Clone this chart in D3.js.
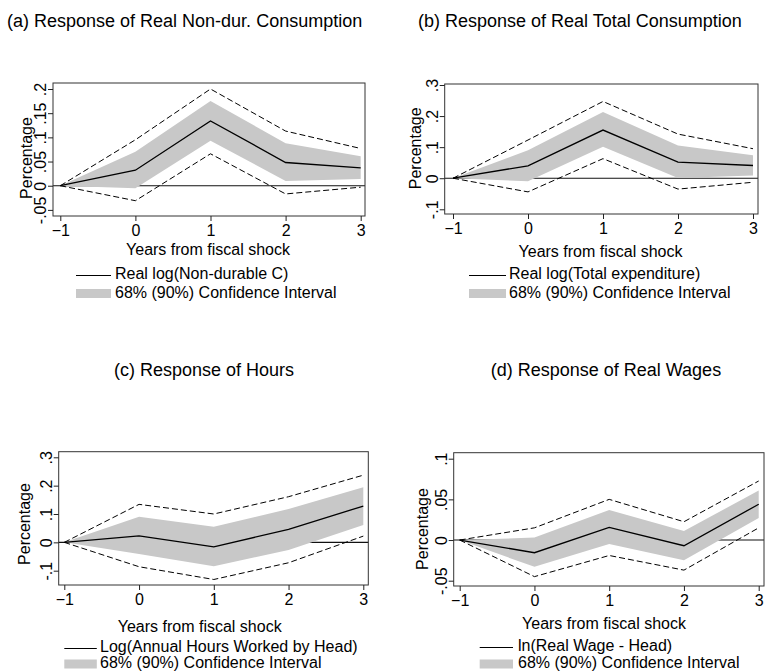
<!DOCTYPE html>
<html>
<head>
<meta charset="utf-8">
<script src="https://cdn.jsdelivr.net/npm/d3@7"></script>
<style>
  html, body { margin: 0; padding: 0; background: #fff; }
  svg { display: block; font-family: "Liberation Sans", Arial, sans-serif; }
  .tick line { stroke: #222; }
  .tick text { font-size: 16px; fill: #000; }
</style>
</head>
<body>
<div id="chart"></div>
<script>
// years after the fiscal shock
const years = [-1, 0, 1, 2, 3];

// (a) real non-durable consumption
const ndEst = [0, 0.032, 0.134, 0.048, 0.037];
const nd68Lo = [0, -0.005, 0.093, 0.010, 0.014];
const nd68Hi = [0, 0.070, 0.175, 0.088, 0.061];
const nd90Lo = [0, -0.031, 0.066, -0.017, -0.003];
const nd90Hi = [0, 0.095, 0.200, 0.113, 0.077];
const ndTicks = [-0.05, 0, 0.05, 0.1, 0.15, 0.2];

// (b) real total consumption
const totEst = [0, 0.040, 0.155, 0.052, 0.041];
const tot68Lo = [0, -0.010, 0.101, 0.001, 0.009];
const tot68Hi = [0, 0.090, 0.213, 0.105, 0.074];
const tot90Lo = [0, -0.044, 0.063, -0.035, -0.013];
const tot90Hi = [0, 0.123, 0.247, 0.142, 0.095];
const totTicks = [-0.1, 0, 0.1, 0.2, 0.3];

// (c) hours
const hrsEst = [0, 0.023, -0.016, 0.046, 0.128];
const hrs68Lo = [0, -0.041, -0.084, -0.027, 0.061];
const hrs68Hi = [0, 0.090, 0.055, 0.118, 0.194];
const hrs90Lo = [0, -0.086, -0.131, -0.072, 0.022];
const hrs90Hi = [0, 0.134, 0.100, 0.161, 0.237];
const hrsTicks = [-0.1, 0, 0.1, 0.2, 0.3];

// (d) real wages
const wageEst = [0, -0.0156, 0.0156, -0.007, 0.044];
const wage68Lo = [0, -0.033, -0.005, -0.025, 0.027];
const wage68Hi = [0, 0.003, 0.037, 0.011, 0.061];
const wage90Lo = [0, -0.045, -0.019, -0.037, 0.015];
const wage90Hi = [0, 0.015, 0.050, 0.0225, 0.0726];
const wageTicks = [-0.05, 0, 0.05, 0.1];

const bandLabel = "68% (90%) Confidence Interval";

class IrfPanel {
  constructor(_config, data) {
    this.config = _config;
    this.data = data;
    this.initVis();
  }

  initVis() {
    let vis = this;
    const c = vis.config;

    vis.xScale = d3.scaleLinear().domain([-1, 3]).range(c.xRange);
    vis.yScale = d3
      .scaleLinear()
      .domain([d3.min(c.yTicks), d3.max(c.yTicks)])
      .range(c.yRange);

    vis.g = c.svg.append("g");

    vis.g
      .append("text")
      .attr("x", c.title.x)
      .attr("y", c.title.y)
      .style("font-size", "18px")
      .text(c.title.text);

    vis.renderVis();
  }

  renderVis() {
    let vis = this;
    const c = vis.config;
    const b = c.box;
    const rows = years.map((yr, i) => ({
      yr: yr,
      est: vis.data.est[i],
      lo68: vis.data.lo68[i],
      hi68: vis.data.hi68[i],
      lo90: vis.data.lo90[i],
      hi90: vis.data.hi90[i],
    }));

    // zero line sits under the band
    vis.g
      .append("line")
      .attr("x1", b.x0)
      .attr("x2", b.x1)
      .attr("y1", vis.yScale(0))
      .attr("y2", vis.yScale(0))
      .style("stroke", "#111")
      .style("stroke-width", 1.1);

    const area = d3
      .area()
      .x((d) => vis.xScale(d.yr))
      .y0((d) => vis.yScale(d.lo68))
      .y1((d) => vis.yScale(d.hi68));

    vis.g
      .append("path")
      .datum(rows)
      .attr("d", area)
      .style("fill", "#c8c8c8");

    ["lo90", "hi90"].forEach((k) => {
      vis.g
        .append("path")
        .datum(rows)
        .attr(
          "d",
          d3
            .line()
            .x((d) => vis.xScale(d.yr))
            .y((d) => vis.yScale(d[k]))
        )
        .style("fill", "none")
        .style("stroke", "#000")
        .style("stroke-width", 1)
        .style("stroke-dasharray", "6,3");
    });

    vis.g
      .append("path")
      .datum(rows)
      .attr(
        "d",
        d3
          .line()
          .x((d) => vis.xScale(d.yr))
          .y((d) => vis.yScale(d.est))
      )
      .style("fill", "none")
      .style("stroke", "#000")
      .style("stroke-width", 1.3);

    // plot region outline
    vis.g
      .append("rect")
      .attr("x", b.x0)
      .attr("y", b.y0)
      .attr("width", b.x1 - b.x0)
      .attr("height", b.y1 - b.y0)
      .style("fill", "none")
      .style("stroke", "#333")
      .style("stroke-width", 1);

    // axes
    const xAxis = vis.g
      .append("g")
      .attr("transform", `translate(0,${b.y1})`)
      .call(
        d3
          .axisBottom(vis.xScale)
          .tickValues(years)
          .tickFormat(d3.format("d"))
          .tickSize(5)
      );
    xAxis.select(".domain").remove();
    xAxis.selectAll("text").attr("y", 20).attr("dy", 0);

    const fmt = (d) => (d === 0 ? "0" : String(d).replace("0.", "."));
    const yAxis = vis.g
      .append("g")
      .attr("transform", `translate(${b.x0},0)`)
      .call(
        d3.axisLeft(vis.yScale).tickValues(c.yTicks).tickFormat(fmt).tickSize(5)
      );
    yAxis.select(".domain").remove();
    yAxis
      .selectAll("text")
      .attr("x", 0)
      .attr("dy", 0)
      .attr("transform", "translate(-7,0) rotate(-90)")
      .style("text-anchor", "middle");

    vis.g
      .append("text")
      .attr("x", c.xLabel.x)
      .attr("y", c.xLabel.y)
      .style("font-size", "16px")
      .style("text-anchor", "middle")
      .text("Years from fiscal shock");

    vis.g
      .append("text")
      .attr("transform", `translate(${c.yLabel.x},${c.yLabel.y}) rotate(-90)`)
      .style("font-size", "16px")
      .style("text-anchor", "middle")
      .text("Percentage");

    // legend
    const L = c.legend;
    vis.g
      .append("line")
      .attr("x1", L.x)
      .attr("x2", L.x + L.w)
      .attr("y1", L.y1 - 3.5)
      .attr("y2", L.y1 - 3.5)
      .style("stroke", "#000")
      .style("stroke-width", 1.2);
    vis.g
      .append("rect")
      .attr("x", L.x)
      .attr("y", L.y2 - 8.5)
      .attr("width", L.w)
      .attr("height", 9)
      .style("fill", "#c8c8c8");
    vis.g
      .append("text")
      .attr("x", L.tx)
      .attr("y", L.y1)
      .style("font-size", "16px")
      .text(c.seriesLabel);
    vis.g
      .append("text")
      .attr("x", L.tx)
      .attr("y", L.y2)
      .style("font-size", "16px")
      .text(bandLabel);
  }
}

const svg = d3
  .select("#chart")
  .append("svg")
  .attr("width", 766)
  .attr("height", 671);

new IrfPanel(
  {
    svg: svg,
    title: { text: "(a) Response of Real Non-dur. Consumption", x: 7, y: 26.5 },
    box: { x0: 53, x1: 365, y0: 83, y1: 216 },
    xRange: [60.3, 360.7],
    yRange: [209.9, 89],
    yTicks: ndTicks,
    xLabel: { x: 208, y: 255 },
    yLabel: { x: 32, y: 158 },
    legend: { x: 76, w: 35, tx: 115, y1: 279, y2: 297.5 },
    seriesLabel: "Real log(Non-durable C)",
  },
  { est: ndEst, lo68: nd68Lo, hi68: nd68Hi, lo90: nd90Lo, hi90: nd90Hi }
);

new IrfPanel(
  {
    svg: svg,
    title: { text: "(b) Response of Real Total Consumption", x: 418, y: 26.5 },
    box: { x0: 444.7, x1: 758, y0: 84, y1: 214 },
    xRange: [453, 753],
    yRange: [209.3, 85],
    yTicks: totTicks,
    xLabel: { x: 600.5, y: 256.5 },
    yLabel: { x: 421, y: 148.3 },
    legend: { x: 469, w: 37, tx: 509, y1: 279, y2: 297.5 },
    seriesLabel: "Real log(Total expenditure)",
  },
  { est: totEst, lo68: tot68Lo, hi68: tot68Hi, lo90: tot90Lo, hi90: tot90Hi }
);

new IrfPanel(
  {
    svg: svg,
    title: { text: "(c) Response of Hours", x: 114, y: 375.5 },
    box: { x0: 58.7, x1: 368.3, y0: 451.7, y1: 585 },
    xRange: [64.3, 363.3],
    yRange: [570.7, 457.3],
    yTicks: hrsTicks,
    xLabel: { x: 199.7, y: 631.5 },
    yLabel: { x: 30, y: 524 },
    legend: { x: 64.3, w: 32.5, tx: 100, y1: 652, y2: 668 },
    seriesLabel: "Log(Annual Hours Worked by Head)",
  },
  { est: hrsEst, lo68: hrs68Lo, hi68: hrs68Hi, lo90: hrs90Lo, hi90: hrs90Hi }
);

new IrfPanel(
  {
    svg: svg,
    title: { text: "(d) Response of Real Wages", x: 490.7, y: 375.5 },
    box: { x0: 453.7, x1: 764, y0: 452.7, y1: 586 },
    xRange: [459.7, 758.7],
    yRange: [580.7, 458.7],
    yTicks: wageTicks,
    xLabel: { x: 604, y: 628.5 },
    yLabel: { x: 428, y: 529 },
    legend: { x: 479.7, w: 33.3, tx: 518, y1: 651, y2: 668 },
    seriesLabel: "ln(Real Wage - Head)",
  },
  { est: wageEst, lo68: wage68Lo, hi68: wage68Hi, lo90: wage90Lo, hi90: wage90Hi }
);
</script>
</body>
</html>
